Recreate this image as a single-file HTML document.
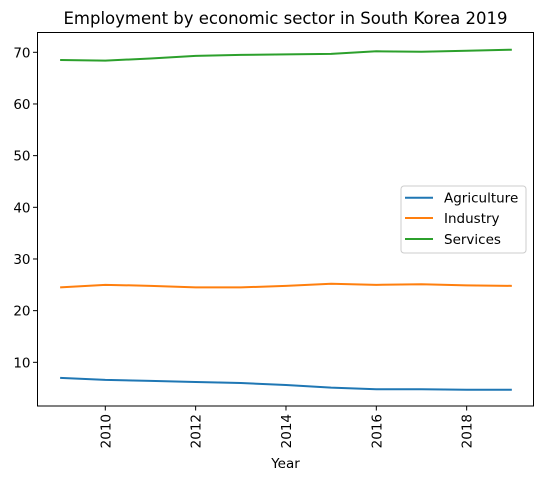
<!DOCTYPE html>
<html><head><meta charset="utf-8"><style>body{margin:0;background:#fff}svg{font-family:"DejaVu Sans","Liberation Sans",sans-serif}</style></head>
<body>
<svg id="chart" width="543" height="481" xmlns="http://www.w3.org/2000/svg">
<text x="285.5" y="24" font-size="16.5" text-anchor="middle">Employment by economic sector in South Korea 2019</text>
<g id="grid"></g>
<rect x="37.5" y="32.5" width="496" height="373.5" fill="none" stroke="#000" stroke-width="1"/>
<text x="285.5" y="468" font-size="13.5" text-anchor="middle">Year</text>
<g>
<rect x="401" y="186" width="125" height="67" rx="3" fill="#fff" fill-opacity="0.8" stroke="#ccc"/>
<line x1="405" x2="433" y1="197.7" y2="197.7" stroke="#1f77b4" stroke-width="2"/>
<text x="444" y="202.5" font-size="13.5">Agriculture</text>
<line x1="405" x2="433" y1="218" y2="218" stroke="#ff7f0e" stroke-width="2"/>
<text x="444" y="223" font-size="13.5">Industry</text>
<line x1="405" x2="433" y1="239" y2="239" stroke="#2ca02c" stroke-width="2"/>
<text x="444" y="244" font-size="13.5">Services</text>
</g>
</svg>
<script>
const years=[2009,2010,2011,2012,2013,2014,2015,2016,2017,2018,2019];
const agriculture=[7.0,6.6,6.4,6.2,6.0,5.6,5.1,4.8,4.8,4.7,4.7];
const industry=[24.5,25.0,24.8,24.5,24.5,24.8,25.2,25.0,25.1,24.9,24.8];
const services=[68.5,68.4,68.8,69.3,69.5,69.6,69.7,70.2,70.1,70.3,70.5];
const yTicks=[10,20,30,40,50,60,70];
const xTicks=[2010,2012,2014,2016,2018];
const NS="http://www.w3.org/2000/svg";
const svg=document.getElementById('chart');
const g=document.getElementById('grid');
function xs(v){return 105.3+(v-2010)*45.17;}
function ys(v){return 52.3+(70-v)*5.167;}
function mk(t,a,p){const e=document.createElementNS(NS,t);for(const k in a)e.setAttribute(k,a[k]);(p||g).appendChild(e);return e;}
yTicks.forEach(v=>{
 const l=mk('line',{x1:33,x2:37.5,y1:ys(v),y2:ys(v),stroke:'#000'});
 
 
 const t=mk('text',{x:30.5,y:ys(v)+5,'font-size':13.5,'text-anchor':'end'});
 
 
 t.textContent=v;
});
xTicks.forEach(v=>{
 const l=mk('line',{x1:xs(v),x2:xs(v),y1:406,y2:410.5,stroke:'#000'});
 
 
 const t=mk('text',{x:0,y:0,'font-size':13.5,'text-anchor':'end',transform:`translate(${xs(v)+5},414) rotate(-90)`});
 
 
 t.textContent=v;
});
[[agriculture,'#1f77b4','line-agriculture'],[industry,'#ff7f0e','line-industry'],[services,'#2ca02c','line-services']].forEach(([d,c,n])=>{
 const p=mk('polyline',{points:d.map((v,i)=>xs(years[i])+','+ys(v)).join(' '),fill:'none',stroke:c,'stroke-width':2});
 
 
});
</script>
</body></html>
